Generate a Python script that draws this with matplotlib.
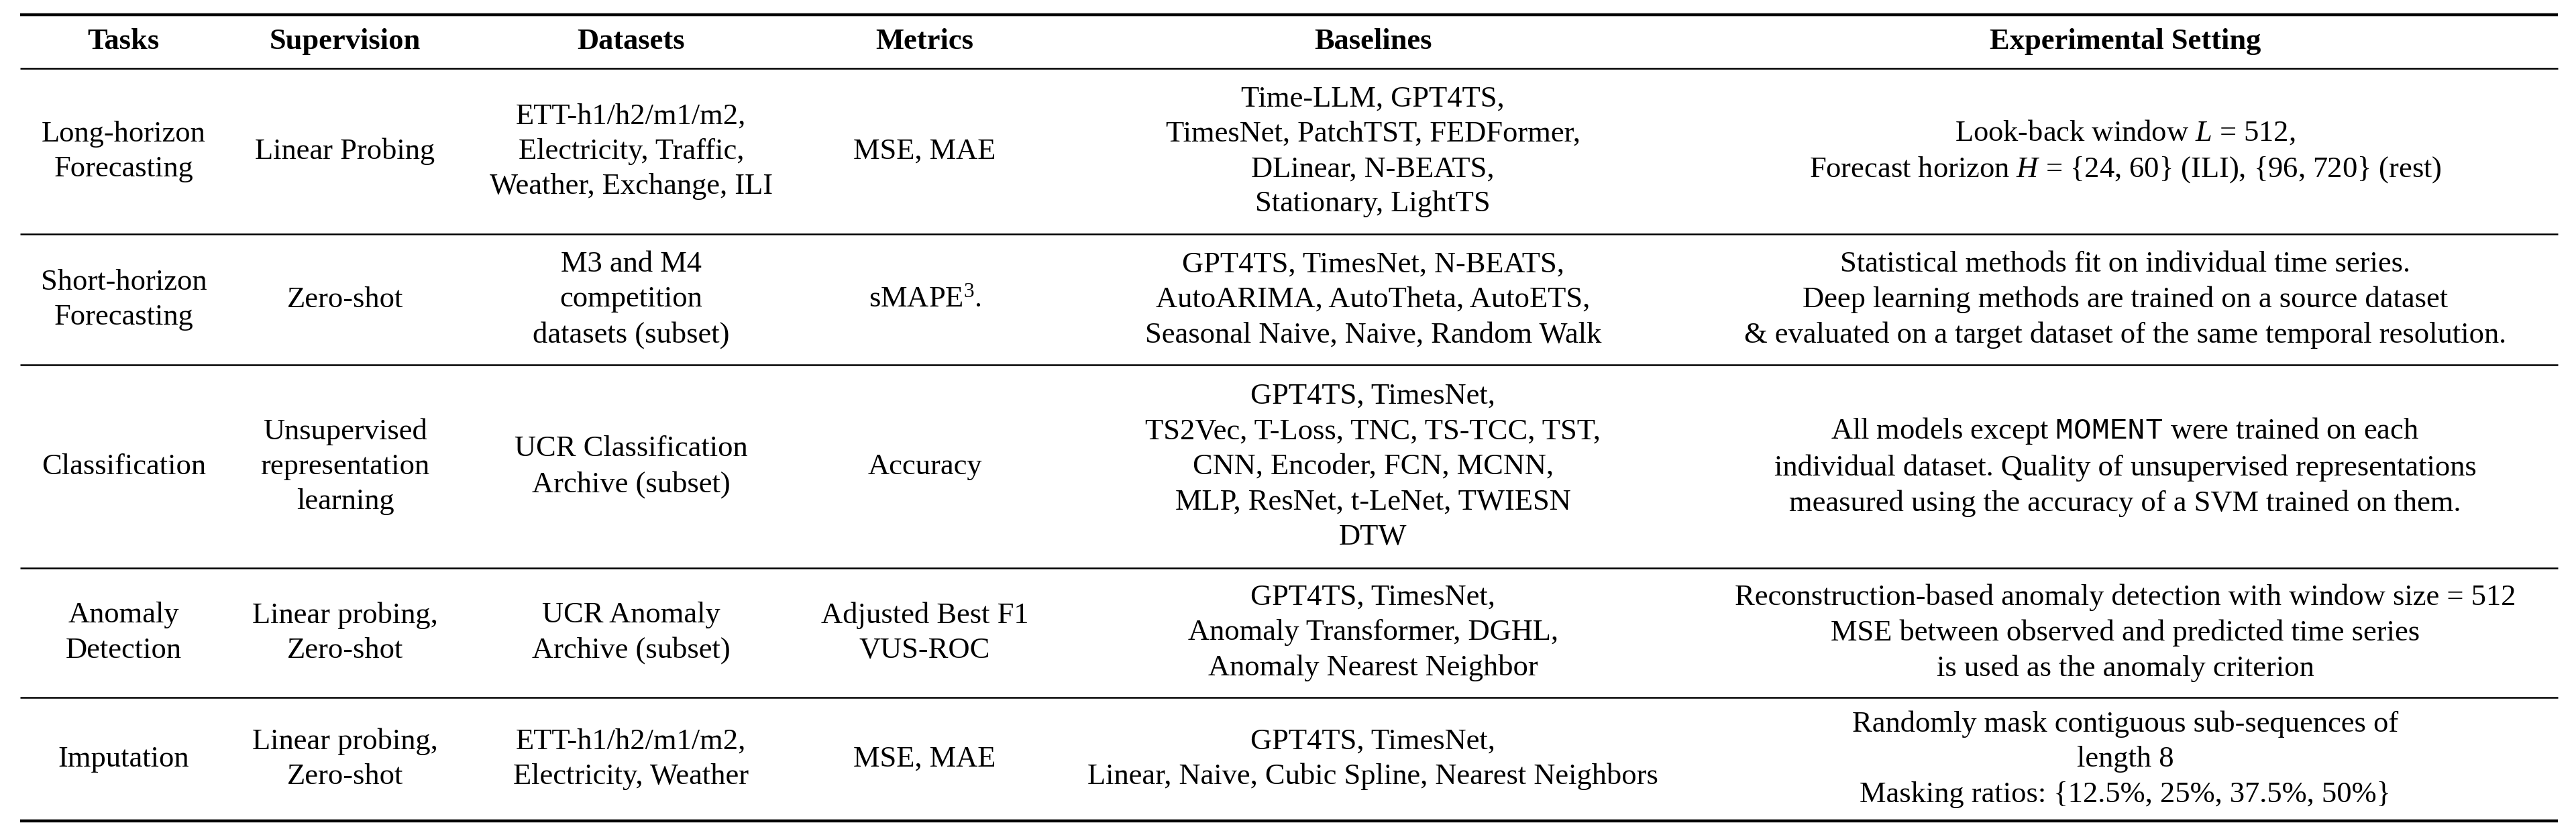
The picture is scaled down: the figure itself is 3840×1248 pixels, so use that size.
import matplotlib
matplotlib.use("Agg")
import matplotlib.pyplot as plt

plt.rcParams["font.family"] = "serif"
plt.rcParams["font.serif"] = ["Liberation Serif", "DejaVu Serif"]
plt.rcParams["mathtext.fontset"] = "custom"
plt.rcParams["mathtext.rm"] = "Liberation Serif"
plt.rcParams["mathtext.it"] = "Liberation Serif:italic"
plt.rcParams["mathtext.tt"] = "Liberation Mono"

headers = ["Tasks", "Supervision", "Datasets", "Metrics", "Baselines", "Experimental Setting"]
tasks = ["Long-horizon\nForecasting", "Short-horizon\nForecasting", "Classification",
         "Anomaly\nDetection", "Imputation"]
supervision = ["Linear Probing", "Zero-shot", "Unsupervised\nrepresentation\nlearning",
               "Linear probing,\nZero-shot", "Linear probing,\nZero-shot"]
datasets = ["ETT-h1/h2/m1/m2,\nElectricity, Traffic,\nWeather, Exchange, ILI",
            "M3 and M4\ncompetition\ndatasets (subset)",
            "UCR Classification\nArchive (subset)",
            "UCR Anomaly\nArchive (subset)",
            "ETT-h1/h2/m1/m2,\nElectricity, Weather"]
metrics = ["MSE, MAE", "sMAPE$^3$.", "Accuracy", "Adjusted Best F1\nVUS-ROC", "MSE, MAE"]
baselines = ["Time-LLM, GPT4TS,\nTimesNet, PatchTST, FEDFormer,\nDLinear, N-BEATS,\nStationary, LightTS",
             "GPT4TS, TimesNet, N-BEATS,\nAutoARIMA, AutoTheta, AutoETS,\nSeasonal Naive, Naive, Random Walk",
             "GPT4TS, TimesNet,\nTS2Vec, T-Loss, TNC, TS-TCC, TST,\nCNN, Encoder, FCN, MCNN,\nMLP, ResNet, t-LeNet, TWIESN\nDTW",
             "GPT4TS, TimesNet,\nAnomaly Transformer, DGHL,\nAnomaly Nearest Neighbor",
             "GPT4TS, TimesNet,\nLinear, Naive, Cubic Spline, Nearest Neighbors"]
settings = ["Look-back window $L$ = 512,\nForecast horizon $H$ = {24, 60} (ILI), {96, 720} (rest)",
            "Statistical methods fit on individual time series.\nDeep learning methods are trained on a source dataset\n& evaluated on a target dataset of the same temporal resolution.",
            "All models except $\\mathtt{MOMENT}$ were trained on each\nindividual dataset. Quality of unsupervised representations\nmeasured using the accuracy of a SVM trained on them.",
            "Reconstruction-based anomaly detection with window size = 512\nMSE between observed and predicted time series\nis used as the anomaly criterion",
            "Randomly mask contiguous sub-sequences of\nlength 8\nMasking ratios: {12.5%, 25%, 37.5%, 50%}"]

col_x = [0.048, 0.134, 0.245, 0.359, 0.533, 0.825]
row_lines = [0.018, 0.082, 0.280, 0.436, 0.679, 0.833, 0.981]

fig = plt.figure(figsize=(38.4, 12.48), dpi=100)
ax = fig.add_axes([0, 0, 1, 1])
ax.set_xlim(0, 1); ax.set_ylim(1, 0); ax.axis("off")

fs = 32
for i, y in enumerate(row_lines):
    lw = 3.2 if i in (0, len(row_lines) - 1) else 1.8
    ax.plot([0.0077, 0.993], [y, y], color="black", lw=lw, solid_capstyle="butt")

hy = (row_lines[0] + row_lines[1]) / 2
for x, h in zip(col_x, headers):
    ax.text(x, hy, h, ha="center", va="center", fontsize=fs, fontweight="bold")

cols = [tasks, supervision, datasets, metrics, baselines, settings]
for r in range(len(tasks)):
    yc = (row_lines[r + 1] + row_lines[r + 2]) / 2
    for x, col in zip(col_x, cols):
        ax.text(x, yc, col[r], ha="center", va="center", fontsize=fs,
                linespacing=1.4, multialignment="center")

fig.savefig("out.png", dpi=100)
